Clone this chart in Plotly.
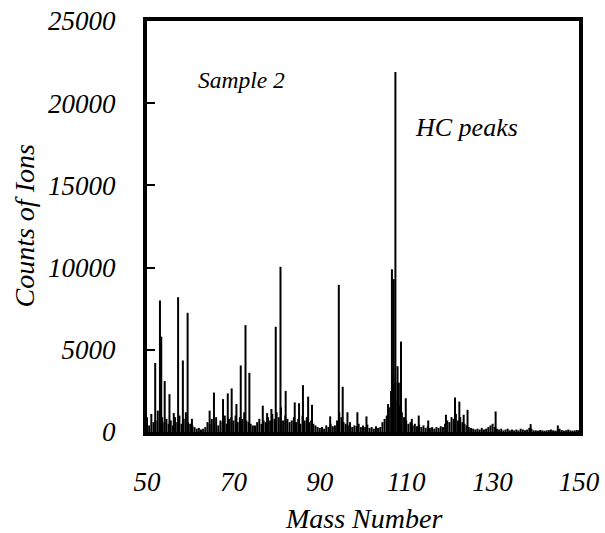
import plotly.graph_objects as go

# Major peaks (mass number, counts)
peak_mass = [51.9, 53.0, 53.3, 54.1, 55.2, 56.2, 57.2, 58.3, 59.4, 60.4,
             64.5, 65.5, 67.6, 68.7, 69.6, 70.7, 71.7, 72.8, 73.7,
             76.8, 77.8, 78.8, 79.8, 80.9, 82.1, 84.2, 85.2, 86.1, 87.3, 88.2,
             92.4, 94.4, 95.3, 96.4, 98.7, 100.8,
             105.8, 106.7, 107.1, 107.5, 108.0, 108.3, 108.8, 109.9, 111.3, 112.9, 115.1,
             119.2, 121.3, 122.3, 123.3, 124.2, 130.7, 138.8, 145.1]
peak_counts = [4200, 8000, 5800, 3100, 2300, 1150, 8200, 4350, 7250, 800,
               1300, 2400, 2000, 2350, 2650, 1700, 4050, 6500, 3600,
               1600, 1150, 1400, 6400, 10050, 2500, 1800, 1750, 2850, 2150, 1650,
               950, 8950, 2750, 1200, 1200, 950,
               1700, 9900, 9300, 21900, 4000, 3000, 5500, 2050, 800, 1000, 700,
               1050, 2100, 1850, 1050, 1350, 1250, 480, 400]

# Background (noise) counts every 0.5 mass unit from 50.0 to 150.0
noise_start = 50.0
noise_step = 0.5
noise_counts = [
    900, 400, 1100, 600, 700, 1300, 500, 900, 600, 800,
    500, 700, 400, 900, 600, 1000, 500, 800, 1200, 600,
    500, 400, 300, 200, 250, 150, 200, 300, 600, 500,
    800, 500, 900, 400, 700, 600, 1000, 500, 800, 900,
    700, 1000, 600, 900, 800, 1200, 700, 600, 500, 400,
    400, 600, 800, 500, 700, 600, 900, 700, 1100, 800,
    1200, 900, 1500, 700, 1000, 800, 600, 700, 900, 600,
    800, 500, 1000, 700, 900, 600, 700, 500, 400, 300,
    250, 300, 200, 400, 300, 500, 350, 400, 700, 1200,
    900, 600, 500, 400, 600, 300, 400, 350, 500, 300,
    400, 300, 450, 250, 300, 200, 350, 250, 300, 600,
    800, 1000, 1500, 2500, 3500, 3000, 2000, 1600, 1200, 900,
    700, 500, 600, 400, 500, 350, 450, 300, 400, 250,
    350, 250, 300, 200, 300, 250, 350, 300, 500, 700,
    600, 900, 800, 1100, 700, 900, 600, 500, 400, 300,
    250, 200, 150, 200, 150, 250, 150, 200, 300, 400,
    500, 300, 200, 150, 200, 100, 150, 200, 100, 150,
    100, 150, 100, 200, 150, 100, 150, 250, 200, 100,
    100, 80, 120, 100, 80, 100, 120, 150, 100, 80,
    100, 200, 120, 80, 100, 150, 100, 80, 100, 120,
    100,
]
noise_mass = [noise_start + i * noise_step for i in range(len(noise_counts))]

x_ticks = [50, 70, 90, 110, 130, 150]
y_ticks = [0, 5000, 10000, 15000, 20000, 25000]

all_mass = noise_mass + peak_mass
all_counts = noise_counts + peak_counts
xs, ys = [], []
for m, c in zip(all_mass, all_counts):
    xs += [m, m, None]
    ys += [0, c, None]

FONT = "Liberation Serif"
ital = lambda s: dict(family=FONT, size=s, style="italic", color="black")

fig = go.Figure()
fig.add_trace(go.Scatter(x=xs, y=ys, mode="lines",
                         line=dict(color="black", width=2),
                         hoverinfo="skip", showlegend=False))

fig.add_annotation(x=61.3, y=21400, text="Sample 2", showarrow=False,
                   xanchor="left", yanchor="middle", font=ital(23.5))
fig.add_annotation(x=111.6, y=18500, text="HC peaks", showarrow=False,
                   xanchor="left", yanchor="middle", font=ital(26))
# axis titles
fig.add_annotation(x=0.5, y=0, xref="paper", yref="paper", yshift=-86,
                   text="Mass Number", showarrow=False,
                   xanchor="center", yanchor="middle", font=ital(28))
fig.add_annotation(x=0, y=0.5, xref="paper", yref="paper", xshift=-123,
                   text="Counts of Ions", showarrow=False, textangle=-90,
                   xanchor="center", yanchor="middle", font=ital(28))

fig.update_layout(
    width=605, height=533,
    margin=dict(l=147, r=26, t=21, b=101),
    paper_bgcolor="white", plot_bgcolor="white",
    font=dict(family=FONT, color="black"),
    showlegend=False,
)
fig.update_xaxes(
    range=[50, 150], tickvals=x_ticks, ticktext=[str(v) for v in x_ticks],
    showgrid=False, zeroline=False, automargin=False,
    showline=True, linecolor="black", linewidth=4, mirror=True,
    ticks="", ticklabelstandoff=23, ticklabeloverflow="allow",
    tickfont=ital(27),
)
fig.update_yaxes(
    range=[0, 25000], tickvals=y_ticks, ticktext=[str(v) for v in y_ticks],
    showgrid=False, zeroline=False, automargin=False,
    showline=True, linecolor="black", linewidth=4, mirror=True,
    ticks="inside", ticklen=8, tickwidth=1.5, tickcolor="black",
    ticklabelstandoff=22, ticklabeloverflow="allow",
    tickfont=ital(27),
)

fig.write_html("out.html",
               config={"displayModeBar": False},
               post_script="document.body.style.margin='0';document.body.style.overflow='hidden';")
